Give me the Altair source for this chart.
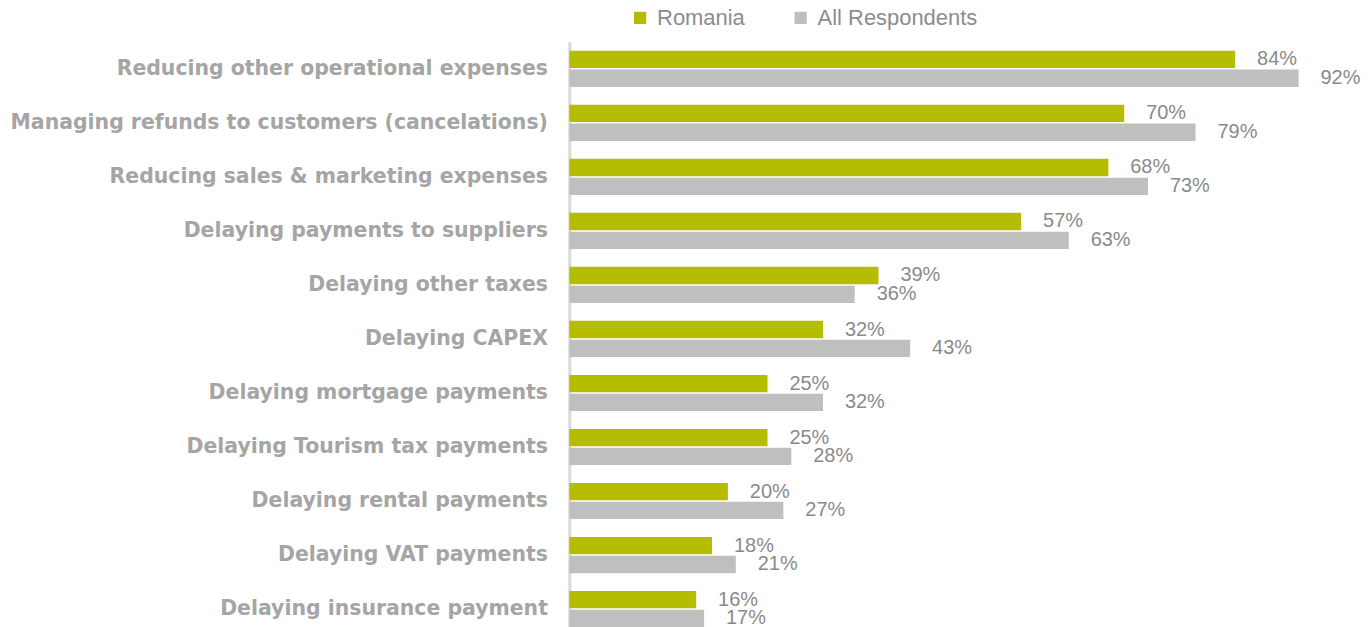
import altair as alt
import pandas as pd

categories = [
    "Reducing other operational expenses",
    "Managing refunds to customers (cancelations)",
    "Reducing sales & marketing expenses",
    "Delaying payments to suppliers",
    "Delaying other taxes",
    "Delaying CAPEX",
    "Delaying mortgage payments",
    "Delaying Tourism tax payments",
    "Delaying rental payments",
    "Delaying VAT payments",
    "Delaying insurance payment",
]
romania = [84, 70, 68, 57, 39, 32, 25, 25, 20, 18, 16]
all_resp = [92, 79, 73, 63, 36, 43, 32, 28, 27, 21, 17]
series = ["Romania", "All Respondents"]
colors = ["#b5bd00", "#bfbfbf"]

rows = []
for c, r, a in zip(categories, romania, all_resp):
    rows.append({"cat": c, "series": series[0], "value": r, "label": f"{r}%"})
    rows.append({"cat": c, "series": series[1], "value": a, "label": f"{a}%"})
df = pd.DataFrame(rows)

y = alt.Y("cat:N", sort=categories,
          scale=alt.Scale(paddingInner=0.33, paddingOuter=0.165),
          axis=alt.Axis(title=None, ticks=False, labelFont="DejaVu Sans",
                        labelFontWeight="bold", labelFontSize=20.5,
                        labelColor="#a5a5a5", labelPadding=22, labelLimit=700,
                        domainColor="#d9d9d9", domainWidth=3, grid=False))
yoff = alt.YOffset("series:N", sort=series,
                   scale=alt.Scale(paddingInner=0.08, paddingOuter=0))
x = alt.X("value:Q", scale=alt.Scale(domain=[0, 100]), axis=None)

bars = alt.Chart(df).mark_bar().encode(
    x=x, y=y, yOffset=yoff,
    color=alt.Color("series:N", sort=series,
                    scale=alt.Scale(domain=series, range=colors),
                    legend=alt.Legend(title=None, orient="none", direction="horizontal",
                                      legendX=60, legendY=-35,
                                      symbolType="square", symbolSize=150,
                                      symbolStrokeWidth=0,
                                      labelFont="Liberation Sans", labelFontSize=22,
                                      labelColor="#8c8c8c", columnPadding=44,
                                      labelOffset=6, labelLimit=400)),
)

text = alt.Chart(df).mark_text(align="left", baseline="middle", dx=22,
                               font="Liberation Sans", fontSize=20,
                               color="#8a8a8a").encode(
    x=x, y=y, yOffset=yoff, text="label:N")

chart = (bars + text).properties(
    width=795, height=596,
    padding={"left": 563, "top": 33, "right": 0, "bottom": 0},
    autosize=alt.AutoSizeParams(type="none"),
).configure_view(stroke=None)

chart.save("out.html", embed_options={"renderer": "svg", "actions": False})
